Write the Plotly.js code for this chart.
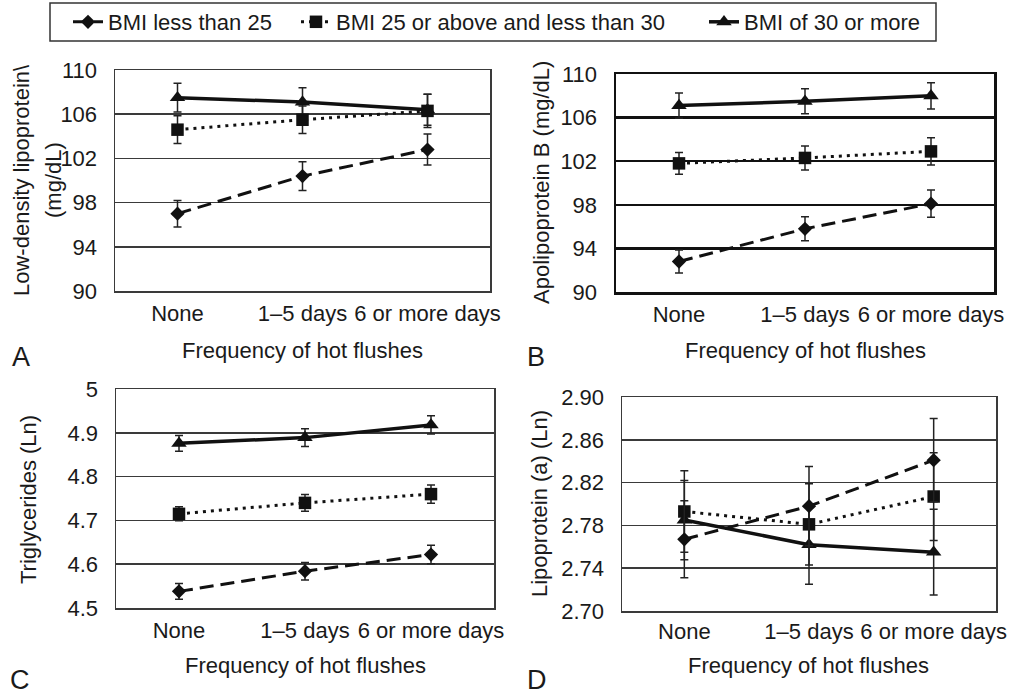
<!DOCTYPE html>
<html>
<head>
<meta charset="utf-8">
<script src="https://cdn.plot.ly/plotly-3.0.1.min.js"></script>
<style>html,body{margin:0;padding:0;background:#fff;}#chart{width:1019px;height:698px;}</style>
</head>
<body>
<div id="chart"></div>
<script>
// ---------- data ----------
const categories = ['None', '1–5 days', '6 or more days'];
const seriesNames = ['BMI less than 25', 'BMI 25 or above and less than 30', 'BMI of 30 or more'];

// Panel A: Low-density lipoprotein (mg/dL)
const ldl_lt25 = [97.0, 100.4, 102.8];
const ldl_lt25_err = [1.2, 1.3, 1.4];
const ldl_25to30 = [104.6, 105.5, 106.3];
const ldl_25to30_err = [1.25, 1.25, 1.5];
const ldl_30plus = [107.5, 107.1, 106.4];
const ldl_30plus_err = [1.3, 1.3, 1.4];

// Panel B: Apolipoprotein B (mg/dL)
const apob_lt25 = [92.8, 95.8, 98.1];
const apob_lt25_err = [1.05, 1.1, 1.25];
const apob_25to30 = [101.8, 102.3, 102.9];
const apob_25to30_err = [1.0, 1.1, 1.25];
const apob_30plus = [107.1, 107.5, 108.0];
const apob_30plus_err = [1.15, 1.15, 1.2];

// Panel C: Triglycerides (Ln)
const tg_lt25 = [4.538, 4.584, 4.622];
const tg_lt25_err = [0.018, 0.02, 0.021];
const tg_25to30 = [4.715, 4.740, 4.760];
const tg_25to30_err = [0.016, 0.019, 0.021];
const tg_30plus = [4.876, 4.889, 4.918];
const tg_30plus_err = [0.018, 0.02, 0.021];

// Panel D: Lipoprotein (a) (Ln)
const lpa_lt25 = [2.767, 2.798, 2.841];
const lpa_lt25_err = [0.036, 0.037, 0.039];
const lpa_25to30 = [2.793, 2.781, 2.807];
const lpa_25to30_err = [0.038, 0.038, 0.041];
const lpa_30plus = [2.785, 2.762, 2.755];
const lpa_30plus_err = [0.037, 0.037, 0.040];

// ---------- layout helpers ----------
const W = 1019, H = 698;
const FONT = 'Liberation Sans, Arial, sans-serif';
const TXT = '#1a1a1a';
const FS = 22;
const px = p => p / W;
const py = p => 1 - p / H;

const styles = [
  {dash: '14px,7px', width: 3, symbol: 'diamond', size: 11, legend: 'legend'},
  {dash: '3px,5px', width: 3, symbol: 'square', size: 12.5, legend: 'legend2'},
  {dash: 'solid', width: 3.5, symbol: 'triangle-up', size: 13.5, legend: 'legend3'}
];

function trace(values, errs, k, xa, ya, showLeg) {
  const s = styles[k];
  return {
    type: 'scatter', mode: 'lines+markers',
    x: categories, y: values, xaxis: xa, yaxis: ya,
    name: seriesNames[k], legend: s.legend, showlegend: showLeg,
    line: {color: '#111', width: s.width, dash: s.dash},
    marker: {symbol: s.symbol, size: s.size, color: '#111'},
    error_y: {type: 'data', array: errs, visible: true, color: '#222', thickness: 1.5, width: 4},
    cliponaxis: false
  };
}

const panels = [
  {xa: 'x', ya: 'y', data: [[ldl_lt25, ldl_lt25_err], [ldl_25to30, ldl_25to30_err], [ldl_30plus, ldl_30plus_err]]},
  {xa: 'x2', ya: 'y2', data: [[apob_lt25, apob_lt25_err], [apob_25to30, apob_25to30_err], [apob_30plus, apob_30plus_err]]},
  {xa: 'x3', ya: 'y3', data: [[tg_lt25, tg_lt25_err], [tg_25to30, tg_25to30_err], [tg_30plus, tg_30plus_err]]},
  {xa: 'x4', ya: 'y4', data: [[lpa_lt25, lpa_lt25_err], [lpa_25to30, lpa_25to30_err], [lpa_30plus, lpa_30plus_err]]}
];

const traces = [];
panels.forEach((p, pi) => {
  // draw order: triangles, squares, diamonds
  [2, 1, 0].forEach(k => traces.push(trace(p.data[k][0], p.data[k][1], k, p.xa, p.ya, pi === 0)));
});

function xaxis(l, r, anchor, thick, standoff) {
  return {
    domain: [px(l), px(r)], anchor: anchor, type: 'category', range: [-0.5, 2.5],
    showline: true, mirror: true, linecolor: thick ? '#111' : '#3a3a3a', linewidth: thick ? 2.5 : 1.5,
    showgrid: false, zeroline: false, ticks: '', ticklabelstandoff: standoff,
    tickfont: {family: FONT, size: FS, color: TXT}, fixedrange: true
  };
}
function yaxis(t, b, anchor, range, dtick, fmt, thick) {
  return {
    domain: [py(b), py(t)], anchor: anchor, range: range, dtick: dtick, tick0: range[0],
    tickformat: fmt, showline: true, mirror: true,
    linecolor: thick ? '#111' : '#3a3a3a', linewidth: thick ? 2.5 : 1.5,
    showgrid: true, gridcolor: thick ? '#111' : '#3a3a3a', gridwidth: thick ? 2.5 : 1.5,
    zeroline: false, ticks: '', ticklabelstandoff: 12,
    tickfont: {family: FONT, size: FS, color: TXT}, fixedrange: true
  };
}

function ann(text, x, y, size, angle) {
  return {text: text, x: px(x), y: py(y), xref: 'paper', yref: 'paper', showarrow: false,
          xanchor: 'center', yanchor: 'middle', textangle: angle || 0,
          font: {family: FONT, size: size, color: TXT}};
}

const legendBase = (x) => ({
  orientation: 'h', x: px(x), y: py(22), xanchor: 'left', yanchor: 'middle',
  bgcolor: 'rgba(0,0,0,0)', borderwidth: 0, font: {family: FONT, size: FS, color: TXT},
  itemwidth: 30
});

const layout = {
  width: W, height: H, margin: {l: 0, r: 0, t: 0, b: 0},
  paper_bgcolor: '#fff', plot_bgcolor: '#fff',
  font: {family: FONT, color: TXT},
  xaxis: xaxis(115, 490, 'y', false, 2),
  yaxis: yaxis(70, 291, 'x', [90, 110], 4, 'd', false),
  xaxis2: xaxis(616, 994, 'y2', true, 1),
  yaxis2: yaxis(74, 292, 'x2', [90, 110], 4, 'd', true),
  xaxis3: xaxis(116, 494, 'y3', false, 2),
  yaxis3: yaxis(389, 608, 'x3', [4.5, 5], 0.1, '', false),
  xaxis4: xaxis(622, 996, 'y4', false, 0),
  yaxis4: yaxis(397, 611, 'x4', [2.7, 2.9], 0.04, '.2f', false),
  legend: legendBase(68),
  legend2: legendBase(296),
  legend3: legendBase(704),
  shapes: [
    {type: 'rect', xref: 'paper', yref: 'paper', x0: px(50), x1: px(936), y0: py(3), y1: py(41),
     line: {color: '#333', width: 1.5}, fillcolor: 'rgba(0,0,0,0)'}
  ],
  annotations: [
    ann('Low-density lipoprotein\\', 22, 180, FS, -90),
    ann('(mg/dL)', 54, 180, FS, -90),
    ann('Apolipoprotein B (mg/dL)', 541, 183, FS, -90),
    ann('Triglycerides (Ln)', 28, 500, FS, -90),
    ann('Lipoprotein (a) (Ln)', 539, 504, FS, -90),
    ann('Frequency of hot flushes', 302, 350, FS),
    ann('Frequency of hot flushes', 805, 350, FS),
    ann('Frequency of hot flushes', 305, 665, FS),
    ann('Frequency of hot flushes', 808, 665, FS),
    ann('A', 21, 357, 27),
    ann('B', 536, 357, 27),
    ann('C', 20, 680, 27),
    ann('D', 537, 680, 27)
  ]
};

Plotly.newPlot('chart', traces, layout, {displayModeBar: false, staticPlot: true});
</script>
</body>
</html>
